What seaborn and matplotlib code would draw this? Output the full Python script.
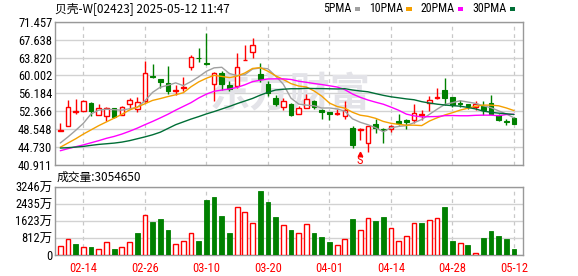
import numpy as np
import matplotlib
matplotlib.use("Agg")
import matplotlib.pyplot as plt
import seaborn as sns
from matplotlib.patches import Rectangle
from matplotlib import font_manager as fm

# ---------------- data ----------------
dates = ["02-11", "02-12", "02-13", "02-14", "02-17", "02-18", "02-19", "02-20", "02-21", "02-24",
         "02-25", "02-26", "02-27", "02-28", "03-03", "03-04", "03-05", "03-06", "03-07", "03-10",
         "03-11", "03-12", "03-13", "03-14", "03-17", "03-18", "03-19", "03-20", "03-21", "03-24",
         "03-25", "03-26", "03-27", "03-28", "03-31", "04-01", "04-02", "04-03", "04-07", "04-08",
         "04-09", "04-10", "04-11", "04-14", "04-15", "04-16", "04-17", "04-22", "04-23", "04-24",
         "04-25", "04-28", "04-29", "04-30", "05-02", "05-06", "05-07", "05-08", "05-09", "05-12"]

opens = [48.20, 49.20, 52.30, 52.51, 54.20, 51.50, 51.30, 53.07, 51.66, 53.92,
         52.86, 54.49, 59.93, 59.23, 58.38, 56.75, 57.39, 61.70, 63.82, 62.62,
         58.17, 60.50, 58.02, 57.67, 63.26, 64.95, 60.36, 58.17, 55.20, 53.29,
         53.92, 51.87, 53.07, 54.63, 52.72, 52.16, 51.87, 51.31, 48.83, 48.27,
         45.65, 49.75, 48.69, 48.62, 50.25, 50.60, 50.60, 51.52, 54.14, 55.12,
         56.96, 55.40, 54.14, 53.92, 53.22, 53.57, 54.14, 51.66, 50.39, 50.96]
highs = [49.90, 54.84, 55.05, 54.70, 54.30, 53.90, 53.30, 53.10, 53.57, 55.12,
         55.40, 63.10, 62.48, 59.30, 62.05, 58.02, 59.65, 64.39, 65.80, 69.12,
         60.64, 60.85, 58.87, 64.88, 66.51, 67.92, 62.76, 58.73, 55.90, 55.20,
         54.14, 53.57, 56.11, 54.84, 52.80, 52.20, 52.86, 54.63, 49.33, 48.83,
         49.20, 50.74, 48.75, 49.54, 51.87, 50.65, 53.99, 52.58, 55.55, 57.32,
         59.44, 55.45, 54.84, 53.99, 54.63, 54.49, 55.90, 51.70, 50.74, 51.10]
lows = [48.10, 49.20, 51.87, 52.40, 51.30, 51.50, 50.25, 50.96, 51.60, 53.07,
        52.16, 54.40, 59.44, 57.32, 56.12, 55.90, 56.60, 61.06, 62.97, 62.26,
        54.49, 56.96, 56.60, 57.32, 63.20, 63.82, 58.52, 55.55, 53.43, 52.58,
        51.45, 51.80, 53.00, 52.86, 50.74, 50.46, 51.66, 50.74, 44.59, 46.15,
        43.67, 47.63, 45.65, 47.90, 49.54, 48.62, 49.89, 50.60, 52.37, 54.98,
        53.78, 53.29, 53.29, 52.86, 52.72, 51.66, 51.80, 50.25, 49.40, 49.70]
closes = [48.30, 53.29, 52.40, 54.63, 52.37, 53.07, 53.10, 51.17, 53.29, 54.77,
          54.35, 60.50, 59.58, 58.52, 56.61, 56.89, 57.53, 63.89, 63.68, 62.48,
          60.50, 58.17, 57.10, 61.70, 63.33, 66.51, 59.30, 56.26, 53.92, 54.63,
          51.66, 53.07, 55.05, 53.29, 52.16, 51.80, 52.00, 52.72, 45.09, 48.48,
          49.19, 48.83, 48.41, 49.33, 49.89, 50.04, 52.00, 51.80, 54.84, 55.33,
          55.20, 53.78, 53.92, 53.43, 53.92, 52.58, 51.87, 50.46, 50.18, 49.75]
volumes = [441, 756, 536, 378, 394, 284, 630, 299, 378, 630,
           1072, 1907, 1576, 1718, 1198, 536, 678, 1056, 678, 2616,
           2773, 1859, 1072, 2269, 2033, 1513, 3041, 2521, 1812, 1418,
           1198, 1040, 1465, 1056, 867, 630, 473, 756, 1718, 1182,
           1749, 1623, 1812, 1276, 662, 898, 1513, 1528, 1655, 1749,
           2285, 678, 567, 489, 110, 819, 1150, 914, 772, 305]

ma5 = [45.6, 46.9, 48.3, 49.8, 51.8, 52.6, 52.8, 52.7, 52.6, 52.9,
       53.2, 54.6, 56.4, 57.5, 57.9, 58.42, 57.83, 58.69, 59.72, 60.89,
       61.62, 61.74, 60.39, 59.99, 60.16, 61.36, 61.59, 61.42, 59.86, 58.12,
       55.15, 53.91, 53.67, 53.54, 53.05, 53.07, 52.86, 52.39, 50.75, 50.02,
       49.50, 48.86, 48.00, 48.85, 49.13, 49.30, 49.93, 50.61, 51.71, 52.80,
       53.83, 54.19, 54.61, 54.33, 54.05, 53.53, 53.14, 52.45, 51.80, 50.97]
ma10 = [44.7, 45.6, 46.5, 47.5, 48.4, 49.3, 50.1, 50.9, 51.7, 52.64,
        53.24, 53.97, 54.68, 55.07, 55.50, 55.88, 56.32, 57.59, 58.63, 59.40,
        60.02, 59.79, 59.54, 59.86, 60.53, 61.49, 61.67, 60.90, 59.93, 59.14,
        58.26, 57.75, 57.54, 56.70, 55.59, 54.11, 53.38, 53.03, 52.15, 51.53,
        51.29, 50.86, 50.20, 49.80, 49.57, 49.40, 49.40, 49.31, 50.28, 50.97,
        51.57, 52.06, 52.61, 53.02, 53.43, 53.68, 53.67, 53.53, 53.07, 52.51]
ma20 = [43.95, 44.4, 44.8, 45.2, 45.65, 46.1, 46.6, 47.0, 47.5, 48.1,
        48.76, 49.5, 50.2, 50.95, 51.73, 52.6, 53.4, 54.2, 55.2, 56.02,
        56.63, 56.88, 57.11, 57.46, 58.01, 58.68, 58.99, 59.25, 59.28, 59.27,
        59.14, 58.77, 58.54, 58.28, 58.06, 57.80, 57.53, 56.97, 56.04, 55.34,
        54.77, 54.30, 53.87, 53.25, 52.58, 51.76, 51.39, 51.17, 51.21, 51.25,
        51.43, 51.46, 51.41, 51.41, 51.50, 51.54, 51.53, 51.42, 51.67, 51.74]
ma30 = [44.52, 44.6, 44.73, 44.87, 45.1, 45.3, 45.44, 45.58, 45.79, 46.1,
        46.5, 46.9, 47.35, 47.9, 48.7, 49.5, 50.1, 50.7, 51.23, 51.8,
        52.3, 52.85, 53.4, 54.0, 54.55, 55.1, 55.8, 56.4, 56.9, 57.06,
        57.17, 57.17, 57.25, 57.21, 57.20, 57.16, 57.12, 57.18, 56.90, 56.69,
        56.52, 56.13, 55.76, 55.45, 55.23, 55.00, 54.82, 54.41, 54.12, 53.88,
        53.70, 53.56, 53.45, 53.18, 52.86, 52.40, 52.15, 51.96, 51.83, 51.67]

price_ticks = [71.457, 67.638, 63.820, 60.002, 56.184, 52.366, 48.548, 44.730, 40.911]
price_tick_labels = ["71.457", "67.638", "63.820", "60.002", "56.184", "52.366", "48.548", "44.730", "40.911"]
vol_ticks = [0, 812, 1623, 2435, 3246]
vol_tick_labels = ["0", "812万", "1623万", "2435万", "3246万"]
xtick_dates = ["02-14", "02-26", "03-10", "03-20", "04-01", "04-14", "04-28", "05-12"]
ma_names = ["5PMA", "10PMA", "20PMA", "30PMA"]
signal_date = "04-08"
signal_text = "S"
title_text = "贝壳-W[02423] 2025-05-12 11:47"
vol_title = "成交量:3054650"
watermark = "东方财富"

# ---------------- style ----------------
sns.set_style("white")
entries = fm.fontManager.ttflist
names = {f.name for f in entries}
cjk = "Noto Sans CJK SC"
num_font, num_stretch, tick_size = "DejaVu Sans", "normal", 8.2
for cand, size in [("Liberation Sans Narrow", 9.5), ("Roboto Condensed", 9.0)]:
    if cand in names:
        num_font, tick_size = cand, size
        break
else:
    if any(f.name == "DejaVu Sans" and str(f.stretch) in ("condensed", "semi-condensed") for f in entries):
        num_stretch, tick_size = "semi-condensed", 8.8
plt.rcParams["font.family"] = [num_font, cjk, "DejaVu Sans"]
plt.rcParams["font.stretch"] = num_stretch

RED = "#ff0000"
GREEN = "#008000"
MA_COLORS = ["#a0a0a0", "#f5a000", "#ff00ff", "#006e36"]
SPINE = "#999999"
GRID = "#d2d2d2"

W, H = 578, 276
fig = plt.figure(figsize=(W / 100, H / 100), dpi=100)
fig.patch.set_facecolor("white")

def rect(l, t, r, b):
    return [l / W, 1 - b / H, (r - l) / W, (b - t) / H]

ax = fig.add_axes(rect(55, 21.7, 523, 165))
axv = fig.add_axes(rect(55, 186.7, 523, 255.3))

n = len(closes)
x = np.arange(n)
o = np.array(opens); c = np.array(closes); h = np.array(highs); l = np.array(lows)
v = np.array(volumes)
up = c >= o
vol_up = np.r_[True, c[1:] >= c[:-1]]
tick_pos = [dates.index(d) for d in xtick_dates]

# ---------------- candles ----------------
bw = 0.6
ax.vlines(x[up], l[up], h[up], color=RED, lw=1.0, zorder=3)
ax.vlines(x[~up], l[~up], h[~up], color=GREEN, lw=1.0, zorder=3)
body_bot = np.minimum(o, c)
body_h = np.maximum(np.abs(c - o), 0.06)
ax.bar(x[up], body_h[up], bottom=body_bot[up], width=bw, facecolor="white",
       edgecolor=RED, lw=1.0, zorder=4)
ax.bar(x[~up], body_h[~up], bottom=body_bot[~up], width=bw, facecolor=GREEN,
       edgecolor=GREEN, lw=0.8, zorder=4)

for vals, col in zip([ma5, ma10, ma20, ma30], MA_COLORS):
    sns.lineplot(x=x, y=vals, ax=ax, color=col, lw=1.0, zorder=5, legend=False)

si = dates.index(signal_date)
ax.plot([si], [43.35], marker="^", ms=3.2, color=RED, zorder=6, clip_on=False)
ax.text(si, 41.95, signal_text, color=RED, ha="center", va="center", fontsize=9, zorder=6)

ax.text((290 - 55) / 468, (165 - 95) / 143.3, watermark, transform=ax.transAxes,
        ha="center", va="center", fontsize=29, fontweight="bold", color="#e3e3e8",
        family=[cjk], zorder=1)

ax.set_xlim(-0.69, n + 0.17)
ax.set_ylim(price_ticks[-1], price_ticks[0])
ax.set_yticks(price_ticks)
ax.set_yticklabels(price_tick_labels)
ax.set_xticks(tick_pos)
ax.set_xticklabels([])
ax.set_xlabel(""); ax.set_ylabel("")

# ---------------- volume ----------------
axv.bar(x[vol_up], v[vol_up], width=0.62, facecolor="white", edgecolor=RED, lw=1.0, zorder=3)
axv.bar(x[~vol_up], v[~vol_up], width=0.62, facecolor=GREEN, edgecolor=GREEN, lw=0.6, zorder=3)
axv.set_xlim(-0.69, n + 0.17)
axv.set_ylim(vol_ticks[0], vol_ticks[-1])
axv.set_yticks(vol_ticks)
axv.set_yticklabels(vol_tick_labels)
axv.set_xticks(tick_pos)
axv.set_xticklabels(xtick_dates)

for a in (ax, axv):
    for s in a.spines.values():
        s.set_visible(True)
        s.set_color(SPINE)
        s.set_linewidth(1.0)
    a.grid(False)
    a.yaxis.grid(True, color=GRID, lw=1.0, ls="-", zorder=0)
    a.xaxis.grid(True, color="#c8c8c8", lw=0.9, ls=(0, (3, 3)), zorder=0)
    a.set_axisbelow(True)
    a.tick_params(axis="both", length=0, labelsize=tick_size, pad=2.0, labelcolor="black")
    a.set_facecolor("white")
axv.tick_params(axis="x", pad=5, labelcolor=RED)

# ---------------- texts ----------------
fig.text(55 / W, 1 - 8.5 / H, title_text, ha="left", va="center", fontsize=8.5,
         family=[cjk, "DejaVu Sans"], color="black")
fig.text(57 / W, 1 - 177.5 / H, vol_title, ha="left", va="center", fontsize=8.5,
         family=[cjk, "DejaVu Sans"], color="black")

# legend: measure text widths, then center the whole row on the reference centre
renderer = fig.canvas.get_renderer()
leg_size = tick_size * 0.95
texts = [fig.text(0, 1 - 9 / H, name, ha="left", va="center", fontsize=leg_size, color="black")
         for name in ma_names]
widths = [t.get_window_extent(renderer).width for t in texts]
gap_txt, dash_w, gap_entry = 3.0, 5.5, 9.0
total = sum(widths) + len(texts) * (gap_txt + dash_w) + (len(texts) - 1) * gap_entry
cur = min(424 - total / 2, 515 - total)
for t, wdt, col in zip(texts, widths, MA_COLORS):
    t.set_x(cur / W)
    dx = cur + wdt + gap_txt
    fig.add_artist(Rectangle((dx / W, 1 - 10.5 / H), dash_w / W, 3 / H,
                             transform=fig.transFigure, facecolor=col, edgecolor="none"))
    cur = dx + dash_w + gap_entry

fig.savefig("out.png", dpi=100, facecolor="white")
